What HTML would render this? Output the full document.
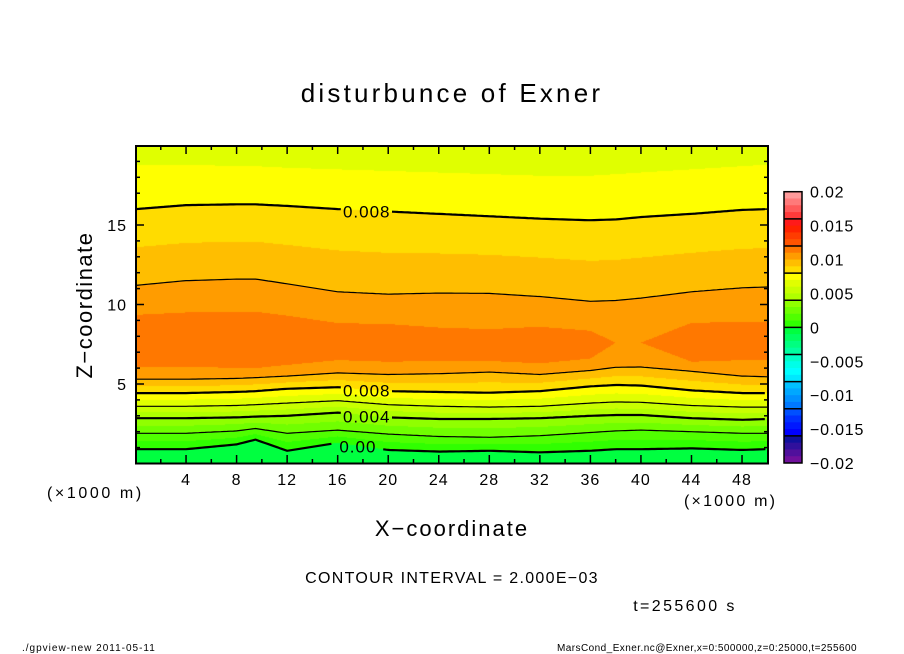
<!DOCTYPE html>
<html><head><meta charset="utf-8">
<style>
html,body{margin:0;padding:0;background:#fff;}
#wrap{position:relative;width:904px;height:654px;overflow:hidden;font-family:"Liberation Sans",sans-serif;}
#fill{position:absolute;left:136px;top:146px;}
#ov{position:absolute;left:0;top:0;}
</style></head>
<body>
<div id="wrap">
<canvas id="fill" width="632" height="318"></canvas>
<svg id="ov" width="904" height="654" xmlns="http://www.w3.org/2000/svg">
  <text x="452" y="102" text-anchor="middle" font-size="26" letter-spacing="3.2" font-family="Liberation Sans, sans-serif">disturbunce of Exner</text>
  <g id="lines"></g>
  <g id="labels"></g>
  <g id="axes"></g>
  <g id="cbar"></g>
  <text x="47" y="498" font-size="16" letter-spacing="2.6">(×1000 m)</text>
  <text x="684" y="506" font-size="16" letter-spacing="2.2">(×1000 m)</text>
  <text x="452" y="536" text-anchor="middle" font-size="22" letter-spacing="2">X−coordinate</text>
  <text transform="translate(92,305) rotate(-90)" text-anchor="middle" font-size="22" letter-spacing="1.5">Z−coordinate</text>
  <text x="452" y="583" text-anchor="middle" font-size="16" letter-spacing="1.3">CONTOUR INTERVAL = 2.000E−03</text>
  <text x="685" y="611" text-anchor="middle" font-size="16" letter-spacing="2.4">t=255600 s</text>
  <text x="22" y="651" font-size="10" letter-spacing="1">./gpview-new   2011-05-11</text>
  <text x="857" y="651" text-anchor="end" font-size="10" letter-spacing="0.45">MarsCond_Exner.nc@Exner,x=0:500000,z=0:25000,t=255600</text>
</svg>
</div>
<script>
// x positions (x1000 m) at which contour heights (km) are sampled
const xs   = [0,4,8,9.5,12,16,20,24,28,32,36,38,40,44,48,50];
const L0   = [0.9,0.9,1.2,1.5,0.8,1.3,0.85,0.75,0.8,0.7,0.8,0.9,0.9,0.95,0.85,0.9];
const L2   = [1.9,1.9,2.05,2.2,1.9,2.1,1.85,1.7,1.65,1.75,1.95,2.05,2.1,2.0,1.9,1.9];
const L4   = [2.85,2.85,2.9,2.95,3.0,3.2,2.9,2.8,2.8,2.85,3.0,3.05,3.05,2.85,2.75,2.8];
const L6   = [3.6,3.6,3.65,3.7,3.8,3.95,3.7,3.6,3.55,3.6,3.8,3.87,3.85,3.65,3.55,3.55];
const L8   = [4.43,4.43,4.5,4.55,4.7,4.8,4.55,4.5,4.45,4.55,4.85,4.94,4.9,4.6,4.43,4.43];
const L10a = [5.3,5.3,5.35,5.4,5.5,5.7,5.6,5.65,5.75,5.6,5.85,6.05,6.07,5.8,5.5,5.45];
const L11a = [6.1,6.1,6.0,6.0,6.2,6.5,6.4,6.45,6.45,6.3,6.6,7.6,7.6,6.4,6.5,6.5];
const L11b = [9.35,9.5,9.55,9.55,9.3,8.83,8.77,8.55,8.45,8.6,8.35,7.6,7.6,8.85,8.9,8.9];
const L10b = [11.2,11.5,11.6,11.6,11.3,10.8,10.65,10.72,10.7,10.5,10.2,10.25,10.4,10.8,11.05,11.1];
const L8b  = [16.0,16.25,16.3,16.3,16.2,16.0,15.85,15.7,15.55,15.4,15.3,15.35,15.5,15.7,15.95,16.0];
const L7b  = [18.8,18.8,18.7,18.7,18.6,18.5,18.4,18.3,18.2,18.1,18.1,18.2,18.3,18.5,18.7,18.8];
const levelValues = [0,0.002,0.004,0.006,0.008,0.010,0.011,0.011,0.010,0.008,0.007];
const bottomValue = -0.0006, topValue = 0.0065;
const xTicks = [4,8,12,16,20,24,28,32,36,40,44,48];
const zTicks = [5,10,15];
const cbarLabels = ["0.02","0.015","0.01","0.005","0","−0.005","−0.01","−0.015","−0.02"];
const cbarValues = [0.02,0.015,0.01,0.005,0,-0.005,-0.01,-0.015,-0.02];

const surfaces=[L0,L2,L4,L6,L8,L10a,L11a,L11b,L10b,L8b,L7b];
const X0=135.5, XS=12.636, Z0=463.5, ZS=15.9;
const px=x=>X0+x*XS, py=z=>Z0-z*ZS;
function interp(arr,x){
  if(x<=xs[0])return arr[0];
  for(let i=1;i<xs.length;i++){ if(x<=xs[i]){const t=(x-xs[i-1])/(xs[i]-xs[i-1]);return arr[i-1]+t*(arr[i]-arr[i-1]);} }
  return arr[arr.length-1];
}
const pal=['#30ff00','#50ff00','#70ff00','#90ff00','#b0ff00','#c8ff00','#e0ff00','#ffff00','#ffdc00','#ffbe00','#ff9c00','#ff7800'];
function colorOf(v){ if(v<0) return '#00ff40'; let k=Math.floor(v*1000+1e-9); if(k>11)k=11; return pal[k]; }

// fill
const cv=document.getElementById('fill'), ctx=cv.getContext('2d');
for(let i=0;i<632;i++){
  const x=(136+i+0.5-X0)/XS;
  const kz=[0], kv=[bottomValue];
  surfaces.forEach((s,j)=>{kz.push(interp(s,x));kv.push(levelValues[j]);});
  kz.push(20); kv.push(topValue);
  let prev=null,start=0;
  for(let j=0;j<=318;j++){
    let c=null;
    if(j<318){
      const z=(Z0-(146+j+0.5))/ZS;
      let v=kv[kv.length-1];
      for(let k=1;k<kz.length;k++){ if(z<=kz[k]){ const d=kz[k]-kz[k-1]; v = d<=1e-9? kv[k] : kv[k-1]+(z-kz[k-1])/d*(kv[k]-kv[k-1]); break; } }
      c=colorOf(v);
    }
    if(c!==prev){ if(prev){ctx.fillStyle=prev;ctx.fillRect(i,start,1,j-start);} prev=c; start=j; }
  }
}

const NS='http://www.w3.org/2000/svg';
function mk(tag,attrs,parent){const e=document.createElementNS(NS,tag);for(const k in attrs)e.setAttribute(k,attrs[k]);parent.appendChild(e);return e;}

// contour lines
const lineDefs=[[L0,2.2,[15.6,19.6],'contour-0.000'],[L2,1.2,null,'contour-0.002'],[L4,2.2,[16.3,20.3],'contour-0.004'],[L6,1.2,null,'contour-0.006'],[L8,2.2,[16.3,20.3],'contour-0.008-lower'],[L10a,1.2,null,'contour-0.010-lower'],[L10b,1.2,null,'contour-0.010-upper'],[L8b,2.2,[16.3,20.3],'contour-0.008-upper']];
const gL=document.getElementById('lines');
lineDefs.forEach(d=>{
  const segs=[[0,50]]; if(d[2]){segs[0]=[0,d[2][0]];segs.push([d[2][1],50]);}
  segs.forEach(sg=>{
    let pts=[];
    for(let x=sg[0];x<=sg[1]+1e-6;x+=0.25){pts.push(px(x).toFixed(1)+','+py(interp(d[0],x)).toFixed(1));}
    const p=mk('polyline',{points:pts.join(' '),fill:'none',stroke:'#000','stroke-width':d[1]},gL);
    
    
  });
});
// contour labels
const gLab=document.getElementById('labels');
[[L8b,'0.008',18.3],[L8,'0.008',18.3],[L4,'0.004',18.3],[L0,'0.00',17.6]].forEach(l=>{
  const t=mk('text',{x:px(l[2]),y:py(interp(l[0],l[2]))+7,'text-anchor':'middle','font-size':17,'letter-spacing':1},gLab);
  t.textContent=l[1];
  
  
});

// axes
const gA=document.getElementById('axes');
const fr=mk('rect',{x:136,y:146,width:632,height:317.5,fill:'none',stroke:'#000','stroke-width':2},gA);


for(let x=2;x<50;x+=2){const L=(x%4===0)?8:4;
  mk('line',{x1:px(x),x2:px(x),y1:463,y2:463-L,stroke:'#000','stroke-width':1.5},gA);
  mk('line',{x1:px(x),x2:px(x),y1:146,y2:146+L,stroke:'#000','stroke-width':1.5},gA);}
for(let z=1;z<20;z++){const L=(z%5===0)?8:4;
  mk('line',{x1:136,x2:136+L,y1:py(z),y2:py(z),stroke:'#000','stroke-width':1.5},gA);
  mk('line',{x1:768,x2:768-L,y1:py(z),y2:py(z),stroke:'#000','stroke-width':1.5},gA);}
xTicks.forEach(v=>{const t=mk('text',{x:px(v),y:485,'text-anchor':'middle','font-size':16,'letter-spacing':1},gA);t.textContent=v;
  
  });
zTicks.forEach(v=>{const t=mk('text',{x:127,y:py(v)+6,'text-anchor':'end','font-size':16,'letter-spacing':1},gA);t.textContent=v;
  
  });

// colorbar
const gC=document.getElementById('cbar');
const cbPal=['#ff9a9a','#ff7a7a','#ff5a5a','#ff3a3a','#ff1a1a','#ff2200','#ff3c00','#ff5400',
 '#ff7800','#ff9c00','#ffbe00','#ffdc00','#ffff00','#e0ff00','#c8ff00','#b0ff00',
 '#90ff00','#70ff00','#50ff00','#30ff00','#00ff40','#00ff60','#00ff80','#00ffa0',
 '#00ffc8','#00ffe8','#00ffff','#00e8ff','#00c0ff','#00a8ff','#0090ff','#0078ff',
 '#0050ff','#0030ff','#0018ff','#0000ff','#10109c','#30109c','#50109c','#70109c'];
const CT=191.7, CB=463, CH=(CB-CT)/40;
cbPal.forEach((c,i)=>{const r=mk('rect',{x:784,y:CT+i*CH,width:18,height:CH+0.4,fill:c},gC);
  
  });
for(let k=1;k<10;k++) mk('line',{x1:784,x2:802,y1:CT+k*CH*4,y2:CT+k*CH*4,stroke:'#000','stroke-width':1.5},gC);
mk('rect',{x:784,y:CT,width:18,height:CB-CT,fill:'none',stroke:'#000','stroke-width':1.5},gC);
cbarValues.forEach((v,i)=>{const t=mk('text',{x:810,y:CT+(0.02-v)/0.04*(CB-CT)+6,'font-size':16,'letter-spacing':0.8},gC);t.textContent=cbarLabels[i];
  
  });
</script>
</body></html>
